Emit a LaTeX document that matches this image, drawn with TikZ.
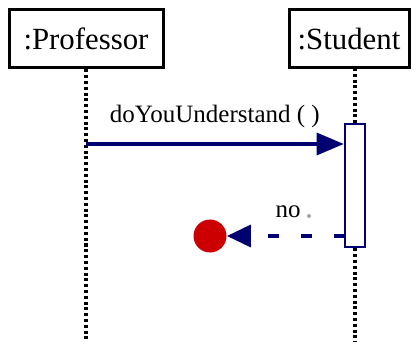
\documentclass[tikz,border=0pt]{standalone}
\usepackage{fontspec}
\setmainfont{Liberation Serif}
\usetikzlibrary{arrows.meta}
\definecolor{navyline}{HTML}{000070}
\definecolor{stopred}{HTML}{CC0000}
\begin{document}
\begin{tikzpicture}[x=0.5pt, y=-0.5pt, font=\fontsize{12.5}{15}\selectfont] % 1 unit = 1 px of the sketch
\tikzstyle{object} = [draw=black, line width=1.5pt, fill=white, minimum height=29pt, inner sep=0pt, font=\fontsize{15.4}{18}\selectfont]
\tikzstyle{lifeline} = [line width=1.6pt, dash pattern=on 1.5pt off 1.4pt, draw=black]
\tikzstyle{activation} = [draw=navyline, line width=1.3pt, fill=white, minimum width=10pt, minimum height=61.5pt, inner sep=0pt]
\tikzstyle{call} = [-{Triangle[length=13.5pt, width=11pt]}, line width=1.7pt, draw=navyline]
\tikzstyle{reply} = [-{Triangle[length=12pt, width=11pt]}, line width=1.7pt, draw=navyline, dash pattern=on 5.5pt off 11pt]
\tikzstyle{stop} = [circle, fill=stopred, minimum size=16.5pt, inner sep=0pt]
\useasboundingbox (0,0) rectangle (418,342);

% Objects on top
\node[object, minimum width=77pt] (Professor) at (86,39) {:Professor};
\node[object, minimum width=60pt] (Student) at (349,39) {:Student};

% Activation of the student
\node[activation] (Active) at (355,185.5) {};

% Lifelines
\coordinate (ProfEnd) at (86,342);
\coordinate (StudTop) at (355,68);
\coordinate (StudEnd) at (355,342);
\draw[lifeline] (Professor.south) -- (ProfEnd);
\draw[lifeline] (StudTop) -- (Active.north);
\draw[lifeline] (Active.south) -- (StudEnd);

% Message and answer
\coordinate (CallStart) at (86,144);
\draw[call] (CallStart) -- (CallStart -| Active.west) node[midway, above=4pt, text=black] {doYouUnderstand ( )};

\node[stop] (Stop) at (210,236) {};
\coordinate (ReplyStart) at (345,236);
\draw[reply] (ReplyStart) -- (Stop.east);
\node (No) at (288,212) {no};
\node[circle, fill=black!35, minimum size=2pt, inner sep=0pt] (Dot) at (309,216) {};

\end{tikzpicture}
\end{document}
